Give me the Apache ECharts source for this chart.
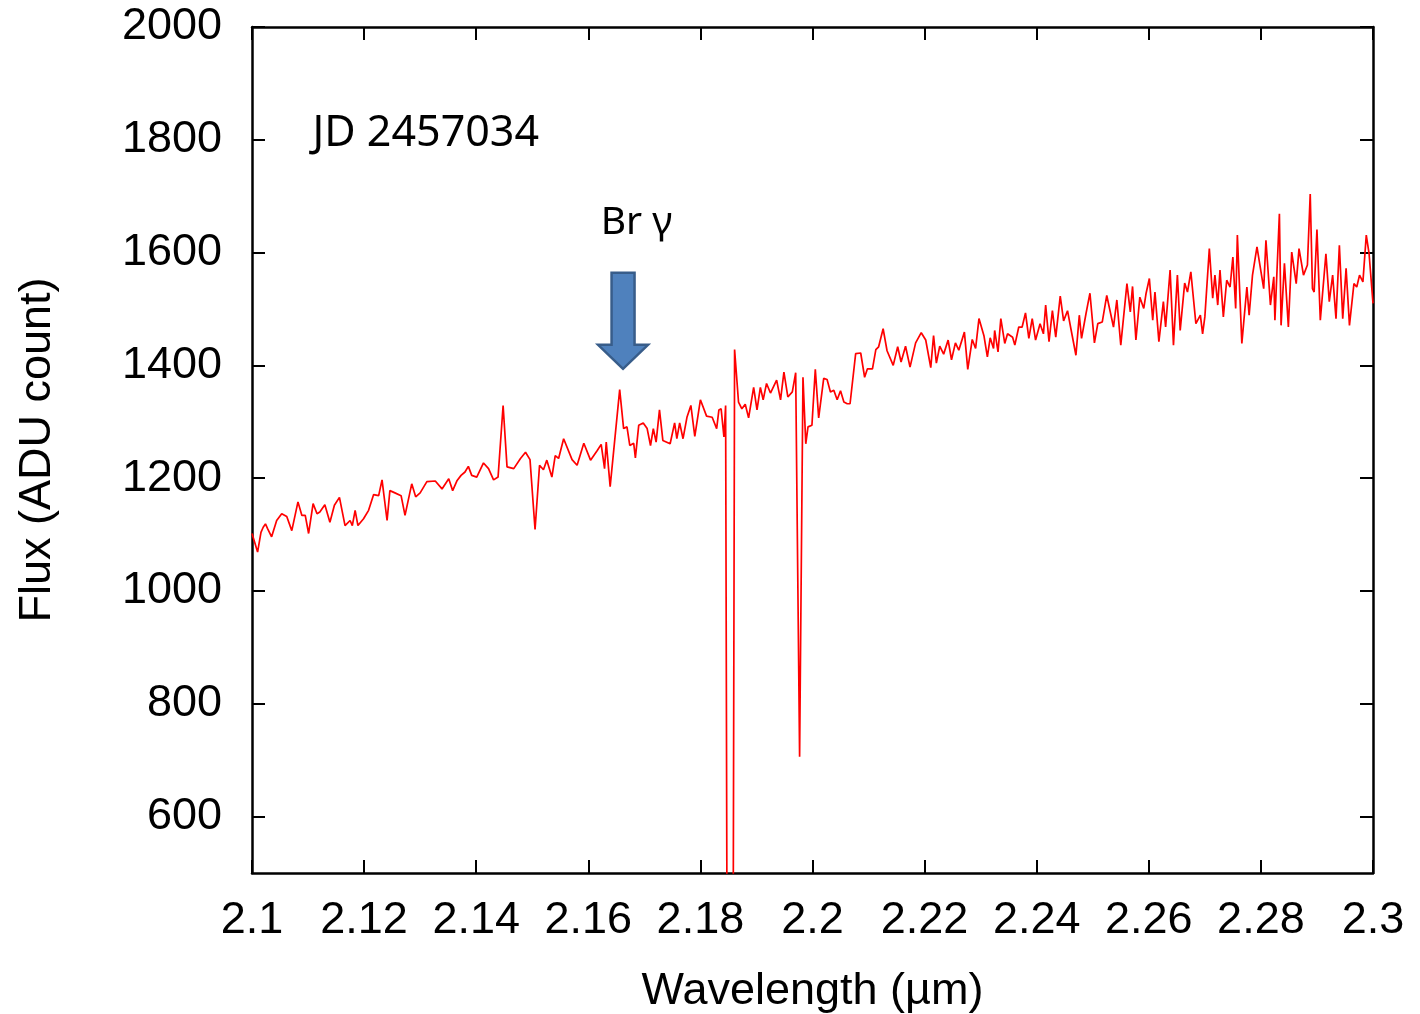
<!DOCTYPE html>
<html>
<head>
<meta charset="utf-8">
<script src="https://cdn.jsdelivr.net/npm/echarts@6/dist/echarts.min.js"></script>
<style>html,body{margin:0;padding:0;background:#fff;}#c{width:1420px;height:1014px;}</style>
</head>
<body>
<div id="c"></div>
<script>
const wavelength = [2.1000,2.1010,2.1016,2.1020,2.1024,2.1028,2.1035,2.1044,2.1053,2.1062,2.1071,2.1082,2.1089,2.1095,2.1101,2.1109,2.1116,2.1121,2.1130,2.1139,2.1147,2.1156,2.1166,2.1175,2.1179,2.1184,2.1189,2.1199,2.1208,2.1217,2.1226,2.1232,2.1241,2.1246,2.1255,2.1266,2.1273,2.1285,2.1292,2.1300,2.1312,2.1327,2.1339,2.1351,2.1358,2.1366,2.1373,2.1380,2.1386,2.1392,2.1401,2.1413,2.1422,2.1431,2.1439,2.1448,2.1455,2.1467,2.1479,2.1488,2.1496,2.1505,2.1513,2.1520,2.1526,2.1535,2.1541,2.1547,2.1556,2.1571,2.1580,2.1592,2.1604,2.1616,2.1623,2.1629,2.1632,2.1639,2.1656,2.1663,2.1669,2.1674,2.1681,2.1684,2.1690,2.1698,2.1705,2.1711,2.1716,2.1721,2.1727,2.1733,2.1746,2.1754,2.1758,2.1763,2.1769,2.1776,2.1783,2.1790,2.1800,2.1811,2.1821,2.1829,2.1833,2.1837,2.1842,2.1845,2.1848,2.1858,2.1861,2.1868,2.1874,2.1880,2.1886,2.1895,2.1901,2.1907,2.1912,2.1918,2.1925,2.1936,2.1943,2.1949,2.1956,2.1964,2.1970,2.1977,2.1983,2.1988,2.1992,2.1999,2.2005,2.2011,2.2020,2.2026,2.2032,2.2038,2.2044,2.2050,2.2056,2.2062,2.2067,2.2077,2.2086,2.2093,2.2098,2.2107,2.2113,2.2118,2.2126,2.2133,2.2144,2.2152,2.2158,2.2166,2.2174,2.2184,2.2194,2.2202,2.2211,2.2216,2.2221,2.2227,2.2234,2.2242,2.2248,2.2255,2.2261,2.2271,2.2277,2.2285,2.2291,2.2297,2.2306,2.2312,2.2317,2.2323,2.2325,2.2331,2.2336,2.2343,2.2348,2.2357,2.2361,2.2368,2.2374,2.2380,2.2386,2.2392,2.2398,2.2406,2.2412,2.2416,2.2422,2.2428,2.2434,2.2442,2.2448,2.2455,2.2461,2.2470,2.2476,2.2480,2.2488,2.2495,2.2503,2.2509,2.2517,2.2525,2.2537,2.2543,2.2550,2.2561,2.2567,2.2571,2.2577,2.2584,2.2591,2.2595,2.2601,2.2607,2.2611,2.2618,2.2626,2.2630,2.2638,2.2644,2.2651,2.2656,2.2664,2.2669,2.2675,2.2684,2.2692,2.2696,2.2700,2.2708,2.2714,2.2718,2.2723,2.2727,2.2733,2.2739,2.2745,2.2750,2.2755,2.2758,2.2766,2.2775,2.2779,2.2785,2.2793,2.2805,2.2809,2.2817,2.2823,2.2825,2.2833,2.2836,2.2842,2.2849,2.2855,2.2863,2.2868,2.2876,2.2883,2.2888,2.2892,2.2895,2.2900,2.2906,2.2916,2.2922,2.2928,2.2934,2.2940,2.2946,2.2952,2.2958,2.2966,2.2971,2.2976,2.2982,2.2988,2.2993,2.3000];
const flux = [1102,1069,1104,1113,1119,1110,1096,1125,1137,1132,1107,1158,1134,1134,1102,1155,1137,1140,1153,1122,1152,1166,1116,1125,1116,1143,1116,1128,1143,1171,1169,1197,1125,1178,1174,1169,1134,1190,1167,1174,1194,1195,1181,1199,1178,1196,1205,1211,1221,1205,1202,1227,1217,1197,1202,1329,1220,1217,1235,1246,1233,1109,1223,1215,1232,1202,1240,1235,1270,1233,1223,1262,1232,1249,1260,1217,1264,1185,1357,1288,1291,1258,1262,1236,1294,1298,1288,1258,1288,1264,1321,1267,1261,1298,1270,1298,1270,1308,1329,1274,1339,1310,1308,1288,1321,1323,1273,1329,200,200,1428,1335,1323,1331,1307,1361,1321,1361,1339,1368,1351,1374,1339,1388,1344,1353,1387,706,1379,1261,1291,1294,1393,1307,1377,1375,1353,1356,1339,1355,1335,1332,1332,1421,1422,1379,1394,1394,1428,1433,1465,1426,1400,1433,1406,1434,1397,1440,1458,1445,1396,1453,1404,1434,1420,1445,1410,1440,1427,1459,1393,1446,1430,1483,1452,1415,1449,1430,1462,1424,1483,1439,1456,1450,1436,1468,1468,1493,1448,1483,1445,1474,1456,1507,1442,1497,1450,1523,1479,1497,1465,1418,1489,1448,1492,1528,1440,1474,1477,1524,1468,1516,1436,1545,1495,1540,1445,1521,1501,1527,1554,1480,1530,1442,1513,1468,1569,1436,1560,1462,1546,1530,1566,1474,1489,1456,1486,1607,1519,1560,1507,1569,1486,1551,1539,1592,1501,1631,1439,1539,1489,1560,1610,1536,1622,1507,1557,1480,1669,1471,1581,1468,1601,1545,1607,1560,1578,1704,1536,1530,1641,1480,1598,1513,1560,1483,1613,1483,1572,1471,1545,1539,1560,1548,1631,1598,1510];
const xTicks = [2.1,2.12,2.14,2.16,2.18,2.2,2.22,2.24,2.26,2.28,2.3];
const yTicks = [600,800,1000,1200,1400,1600,1800,2000];
const xTitle = 'Wavelength (\u00b5m)';
const yTitle = 'Flux (ADU count)';
const dateLabel = 'JD 2457034';
const lineLabel = 'Br \u03b3';
const dateAnchor = [2.1108, 1810];
const lineLabelAnchor = [2.1622, 1653];
const arrowTip = [2.1662, 1394];

const chart = echarts.init(document.getElementById('c'), null, {renderer: 'canvas'});
const data = wavelength.map((w, i) => [w, flux[i]]);
const fontA = 'Liberation Sans, Arial, Helvetica, sans-serif';
const axisLine = {show: true, lineStyle: {color: '#000', width: 2.5}};
const fmtX = v => String(+(+v).toFixed(2));
const fmtY = v => String(Math.round(v));

const option = {
  animation: false,
  backgroundColor: '#fff',
  grid: {left: 252, right: 47, top: 27, bottom: 141, containLabel: false, outerBoundsMode: 'none'},
  xAxis: [{
    type: 'value', min: 2.1, max: 2.3, position: 'bottom',
    axisLine: axisLine,
    axisTick: {show: true, inside: true, length: 13, customValues: xTicks, lineStyle: {color: '#000', width: 2}},
    axisLabel: {customValues: xTicks, formatter: fmtX, color: '#000', fontSize: 45, fontFamily: fontA, margin: 25},
    splitLine: {show: false},
    name: xTitle, nameLocation: 'middle', nameGap: 96,
    nameTextStyle: {color: '#000', fontSize: 45, fontFamily: fontA}
  }, {
    type: 'value', min: 2.1, max: 2.3, position: 'top',
    axisLine: axisLine,
    axisTick: {show: true, inside: true, length: 13, customValues: xTicks, lineStyle: {color: '#000', width: 2}},
    axisLabel: {show: false}, splitLine: {show: false}
  }],
  yAxis: [{
    type: 'value', min: 500, max: 2000, position: 'left',
    axisLine: axisLine,
    axisTick: {show: true, inside: true, length: 13, customValues: yTicks, lineStyle: {color: '#000', width: 2}},
    axisLabel: {customValues: yTicks, formatter: fmtY, color: '#000', fontSize: 45, fontFamily: fontA, margin: 30},
    splitLine: {show: false},
    name: yTitle, nameLocation: 'middle', nameGap: 192, nameRotate: 90,
    nameTextStyle: {color: '#000', fontSize: 45, fontFamily: fontA}
  }, {
    type: 'value', min: 500, max: 2000, position: 'right',
    axisLine: axisLine,
    axisTick: {show: true, inside: true, length: 13, customValues: yTicks, lineStyle: {color: '#000', width: 2}},
    axisLabel: {show: false}, splitLine: {show: false}
  }],
  series: [{
    type: 'line', data: data, xAxisIndex: 0, yAxisIndex: 0,
    showSymbol: false, symbol: 'none', clip: true,
    lineStyle: {color: '#ff0000', width: 1.7},
    z: 3
  }]
};
chart.setOption(option);

function drawAnnotations() {
  const d = chart.convertToPixel({gridIndex: 0}, dateAnchor);
  const b = chart.convertToPixel({gridIndex: 0}, lineLabelAnchor);
  const t = chart.convertToPixel({gridIndex: 0}, arrowTip);
  const tx = t[0], ty = t[1];
  // arrow geometry relative to tip (pixel sizes)
  const hw = 25, sw = 11.5, hh = 24, total = 96;
  const pts = [
    [tx, ty], [tx - hw, ty - hh], [tx - sw, ty - hh], [tx - sw, ty - total],
    [tx + sw, ty - total], [tx + sw, ty - hh], [tx + hw, ty - hh]
  ];
  chart.setOption({
    graphic: [
      {type: 'text', x: d[0], y: d[1], z: 10,
       style: {text: dateLabel, fill: '#000', font: '43px "Noto Sans", "Open Sans", sans-serif', textAlign: 'left', textVerticalAlign: 'middle'}},
      {type: 'text', x: b[0], y: b[1], z: 10,
       style: {text: lineLabel, fill: '#000', font: '39px "Noto Sans", "Open Sans", sans-serif', textAlign: 'left', textVerticalAlign: 'middle'}},
      {type: 'polygon', z: 10, shape: {points: pts},
       style: {fill: '#4F81BD', stroke: '#385D8A', lineWidth: 2.5}}
    ]
  });
}
drawAnnotations();
</script>
</body>
</html>
